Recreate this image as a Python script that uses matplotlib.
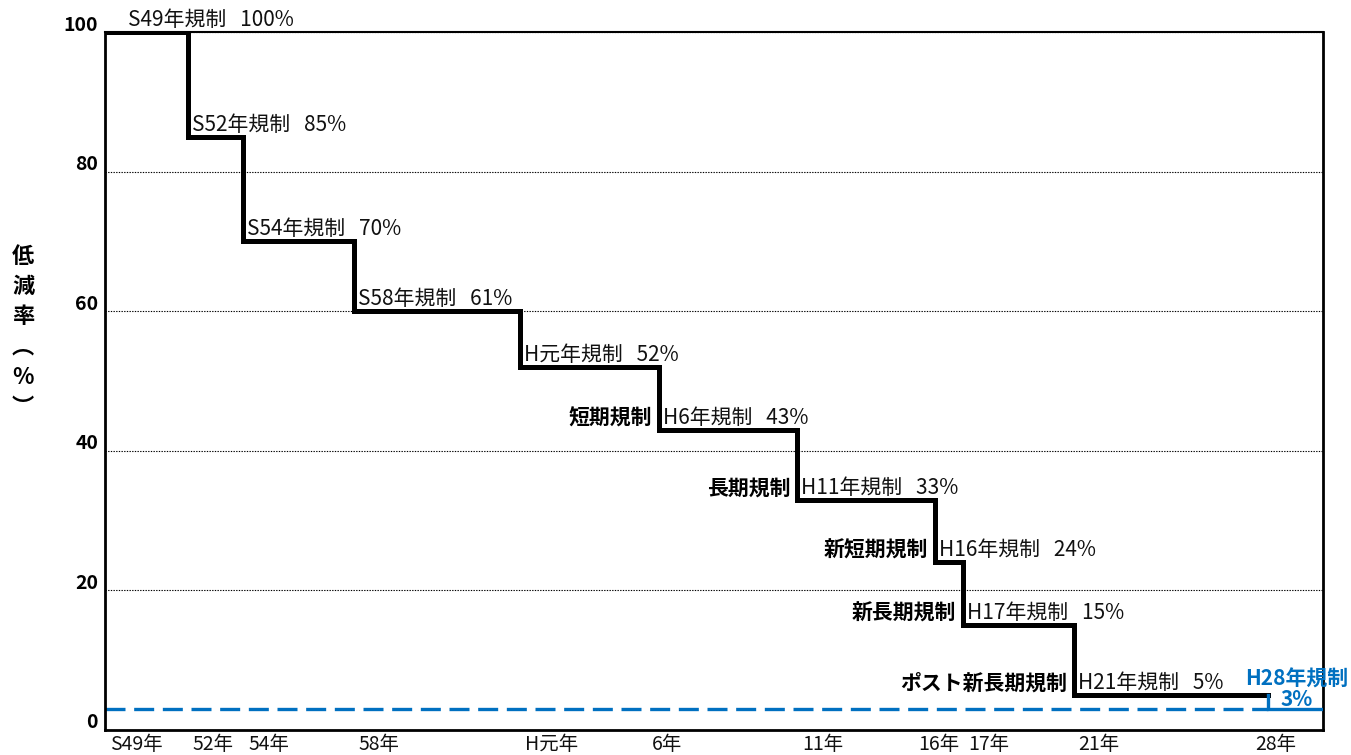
import matplotlib
matplotlib.use("Agg")
import matplotlib.pyplot as plt
from matplotlib.transforms import offset_copy, ScaledTranslation

plt.rcParams['font.family'] = ['Noto Sans CJK JP', 'DejaVu Sans']

# ---- data ----
reg_years = [1974, 1977, 1979, 1983, 1989, 1994, 1999, 2004, 2005, 2009]
reg_values = [100, 85, 70, 60, 52, 43, 33, 24, 15, 5]
reg_names = ["S49年規制", "S52年規制", "S54年規制", "S58年規制", "H元年規制",
             "H6年規制", "H11年規制", "H16年規制", "H17年規制", "H21年規制"]
reg_pct = ["100%", "85%", "70%", "61%", "52%", "43%", "33%", "24%", "15%", "5%"]
reg_groups = ["", "", "", "", "", "短期規制", "長期規制", "新短期規制", "新長期規制", "ポスト新長期規制"]

h28_year = 2016
h28_value = 3
h28_label = "H28年規制\n3%"
x_end = 2018

xtick_years = [1974, 1977, 1979, 1983, 1989, 1994, 1999, 2004, 2005, 2009, 2016]
xtick_labels = ["S49年", "52年", "54年", "58年", "H元年", "6年", "11年", "16年", "17年", "21年", "28年"]
yticks = [0, 20, 40, 60, 80, 100]
ylabel = "低\n減\n率\n︵\n%\n︶"

# ---- layout ----
BLUE = "#0070C0"
xtick_dx = [5, 4, 5, 4, 5, -7, 5, -17, 5, 4, -12]   # pixel offsets of x labels
first_label_dx = 23

fig = plt.figure(figsize=(13.51, 7.55), dpi=100)
ax = fig.add_axes([105/1351, 1-730/755, (1323-105)/1351, (730-32)/755])
ax.set_xlim(reg_years[0], x_end)
ax.set_ylim(0, 100)

# grid
ax.set_yticks(yticks)
ax.grid(axis='y', color='black', linestyle=(0, (1.2, 1.2)), linewidth=0.8, zorder=0)
ax.set_axisbelow(True)

# main step line
xs = reg_years + [h28_year]
ys = reg_values + [reg_values[-1]]
ax.step(xs, ys, where='post', color='black', linewidth=3.6, zorder=3,
        solid_joinstyle='miter')

# H28 blue step
ax.plot([h28_year, h28_year, x_end], [reg_values[-1], h28_value, h28_value],
        color=BLUE, linewidth=2.4, zorder=4, solid_joinstyle='miter')
ax.plot([reg_years[0], h28_year], [h28_value, h28_value], color=BLUE,
        linewidth=2.4, linestyle=(0, (6, 2.6)), zorder=2)

# labels
for i, (yr, v, nm, pc, gp) in enumerate(zip(reg_years, reg_values, reg_names, reg_pct, reg_groups)):
    dx = first_label_dx if i == 0 else 4
    tr = offset_copy(ax.transData, fig=fig, x=dx, y=12, units='dots')
    ax.text(yr, v, f"{nm}   {pc}", transform=tr, ha='left', va='center',
            fontsize=15, color='#111111', zorder=5)
    if gp:
        tr2 = offset_copy(ax.transData, fig=fig, x=-7, y=12, units='dots')
        ax.text(yr, v, gp, transform=tr2, ha='right', va='center',
                fontsize=15, fontweight='bold', color='black', zorder=5)

trh = offset_copy(ax.transData, fig=fig, x=29, y=20, units='dots')
ax.text(h28_year, h28_value, h28_label, transform=trh, ha='center', va='center',
        fontsize=15, fontweight='bold', color=BLUE, linespacing=0.95, zorder=6,
        multialignment='center')

# y tick labels (bold, shifted up)
ax.set_yticklabels([str(t) for t in yticks], fontsize=14, fontweight='bold')
ax.tick_params(axis='y', length=0, pad=5)
for lab in ax.get_yticklabels():
    lab.set_transform(lab.get_transform() + ScaledTranslation(0, 9/100, fig.dpi_scale_trans))

# x tick labels as text
ax.set_xticks([])
for yr, lab, dx in zip(xtick_years, xtick_labels, xtick_dx):
    tr = offset_copy(ax.get_xaxis_transform(), fig=fig, x=dx, y=-15, units='dots')
    ax.text(yr, 0, lab, transform=tr, ha='left', va='center', fontsize=14, color='#111111')

# spines
for side, s in ax.spines.items():
    s.set_color('black')
    s.set_linewidth(2.0 if side != 'top' else 1.5)

# y label
fig.text(23/1351, 1-332/755, ylabel, ha='center', va='center', fontsize=16,
         fontweight='bold', linespacing=1.4, multialignment='center')

fig.savefig("out.png", dpi=100)
